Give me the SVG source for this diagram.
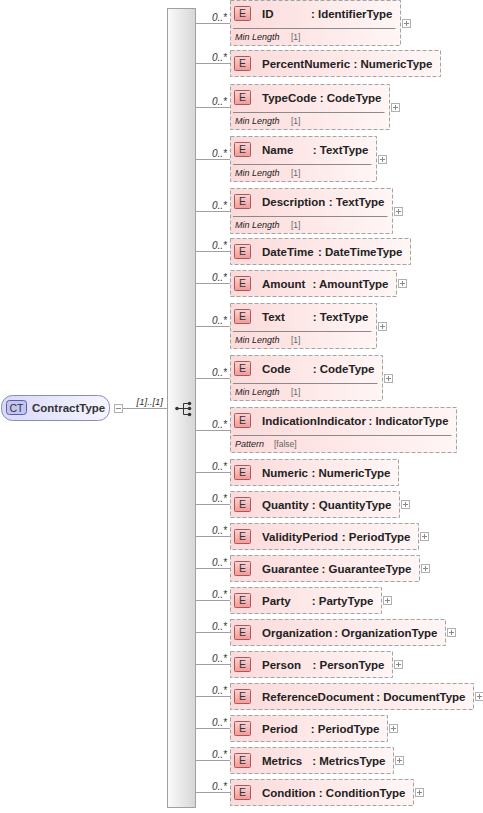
<svg xmlns="http://www.w3.org/2000/svg" xmlns:xlink="http://www.w3.org/1999/xlink" width="483" height="813" viewBox="0 0 483 813">
<style>
text{font-family:"Liberation Sans",Arial,sans-serif}
.box{fill:url(#gE);stroke:#a3a3a3;stroke-dasharray:4 2}
.eb{fill:url(#gB);stroke:#a85a5a}
.et{font-size:10.5px;fill:#333;text-anchor:middle}
.nm{font-size:11.5px;font-weight:bold;fill:#222}
.ty{font-size:11.5px;font-weight:bold;fill:#222;text-anchor:end}
.sep{stroke:#8a8a8a;fill:none}
.fk{font-size:9px;font-style:italic;fill:#222}
.fv{font-size:8.5px;fill:#666}
.pl{fill:#fff;stroke:#b0b0b0}
.pp{stroke:#8a8a8a;fill:none}
.card{font-size:10px;font-style:italic;fill:#333;text-anchor:end}
.cn{stroke:#a0a0a0;fill:none}
</style>
<defs>
<linearGradient id="gE" x1="0" y1="0" x2="1" y2="0">
<stop offset="0" stop-color="#fcdada"/><stop offset="1" stop-color="#fff6f6"/>
</linearGradient>
<linearGradient id="gB" x1="0" y1="0" x2="0" y2="1">
<stop offset="0" stop-color="#fbd4d4"/><stop offset="1" stop-color="#f09a9a"/>
</linearGradient>
<linearGradient id="gS" x1="0" y1="0" x2="1" y2="0">
<stop offset="0" stop-color="#fbfbfb"/><stop offset="1" stop-color="#d6d6d6"/>
</linearGradient>
<linearGradient id="gCT" x1="0" y1="0" x2="1" y2="0">
<stop offset="0" stop-color="#d8d8fa"/><stop offset="1" stop-color="#f6f6ff"/>
</linearGradient>
<g id="plus"><rect class="pl" x="0.5" y="0.5" width="8" height="8"/><path class="pp" d="M2 4.5H7M4.5 2V7"/></g>
<g id="ebadge"><rect class="eb" x="0.5" y="0.5" width="16" height="14" rx="1"/><text class="et" x="8.5" y="11">E</text></g>
</defs>
<rect width="483" height="813" fill="#fff"/>

<g id="connectors">
<path class="cn" d="M122.5 408.5H167.5"/>
<text x="163" y="405" style="font-size:9.5px;font-style:italic;fill:#333;text-anchor:end">[1]..[1]</text>
<path class="cn" d="M196 23.5H230M196 63.5H230M196 107.5H230M196 159.5H230M196 211.5H230M196 251.5H230M196 283.5H230M196 326.5H230M196 378.5H230M196 430.5H230M196 472.5H230M196 504.5H230M196 536.5H230M196 568.5H230M196 600.5H230M196 632.5H230M196 664.5H230M196 696.5H230M196 728.5H230M196 760.5H230M196 792.5H230"/>
<text class="card" x="227" y="20.5">0..*</text>
<text class="card" x="227" y="60.5">0..*</text>
<text class="card" x="227" y="104.5">0..*</text>
<text class="card" x="227" y="156.5">0..*</text>
<text class="card" x="227" y="208.5">0..*</text>
<text class="card" x="227" y="248.5">0..*</text>
<text class="card" x="227" y="280.5">0..*</text>
<text class="card" x="227" y="323.5">0..*</text>
<text class="card" x="227" y="375.5">0..*</text>
<text class="card" x="227" y="427.5">0..*</text>
<text class="card" x="227" y="469.5">0..*</text>
<text class="card" x="227" y="501.5">0..*</text>
<text class="card" x="227" y="533.5">0..*</text>
<text class="card" x="227" y="565.5">0..*</text>
<text class="card" x="227" y="597.5">0..*</text>
<text class="card" x="227" y="629.5">0..*</text>
<text class="card" x="227" y="661.5">0..*</text>
<text class="card" x="227" y="693.5">0..*</text>
<text class="card" x="227" y="725.5">0..*</text>
<text class="card" x="227" y="757.5">0..*</text>
<text class="card" x="227" y="789.5">0..*</text>
</g>

<g id="ContractType">
<rect x="1.5" y="395.5" width="108" height="25" rx="11" fill="url(#gCT)" stroke="#8c8cb4"/>
<rect x="6.5" y="400.5" width="20" height="14" rx="3" fill="#c4c4f2" stroke="#5c5ca4"/>
<text x="16.5" y="411.5" style="font-size:10.5px;fill:#333;text-anchor:middle">CT</text>
<text x="32" y="412" style="font-size:11.5px;font-weight:bold;fill:#333">ContractType</text>
<rect x="114.5" y="404.5" width="8" height="8" fill="#fff" stroke="#b0b0b0"/>
<path d="M116 408.5H121" stroke="#8a8a8a"/>
</g>

<g id="sequence">
<rect x="167.5" y="8.5" width="28" height="799" fill="url(#gS)" stroke="#a0a0a0"/>
<path d="M177 408.5H183.5M183.5 403.5V414.5M183.5 403.5H189M183.5 408.5H189M183.5 414.5H189" stroke="#333" fill="none"/>
<circle cx="177" cy="408.5" r="1.8" fill="#333"/>
<circle cx="189.5" cy="403.5" r="1.8" fill="#333"/>
<circle cx="189.5" cy="408.5" r="1.8" fill="#333"/>
<circle cx="189.5" cy="414.5" r="1.8" fill="#333"/>
</g>

<g id="ID" transform="translate(0,0)">
<rect class="box" x="230.5" y="0.5" width="170" height="45"/>
<use xlink:href="#ebadge" x="234" y="6"/>
<text class="nm" x="262" y="17.5">ID</text><text class="ty" x="392.5" y="17.5">: IdentifierType</text>
<path class="sep" d="M233 28.5H395.5"/>
<text class="fk" x="235" y="40">Min Length</text><text class="fv" x="291" y="40">[1]</text>
<use xlink:href="#plus" x="402" y="19"/>
</g>

<g id="PercentNumeric" transform="translate(0,50)">
<rect class="box" x="230.5" y="0.5" width="210" height="26"/>
<use xlink:href="#ebadge" x="234" y="6"/>
<text class="nm" x="262" y="17.5">PercentNumeric</text><text class="ty" x="432.5" y="17.5">: NumericType</text>
</g>

<g id="TypeCode" transform="translate(0,84)">
<rect class="box" x="230.5" y="0.5" width="159" height="45"/>
<use xlink:href="#ebadge" x="234" y="6"/>
<text class="nm" x="262" y="17.5">TypeCode</text><text class="ty" x="381.5" y="17.5">: CodeType</text>
<path class="sep" d="M233 28.5H384.5"/>
<text class="fk" x="235" y="40">Min Length</text><text class="fv" x="291" y="40">[1]</text>
<use xlink:href="#plus" x="391" y="19"/>
</g>

<g id="Name" transform="translate(0,136)">
<rect class="box" x="230.5" y="0.5" width="146" height="45"/>
<use xlink:href="#ebadge" x="234" y="6"/>
<text class="nm" x="262" y="17.5">Name</text><text class="ty" x="368.5" y="17.5">: TextType</text>
<path class="sep" d="M233 28.5H371.5"/>
<text class="fk" x="235" y="40">Min Length</text><text class="fv" x="291" y="40">[1]</text>
<use xlink:href="#plus" x="378" y="19"/>
</g>

<g id="Description" transform="translate(0,188)">
<rect class="box" x="230.5" y="0.5" width="162" height="45"/>
<use xlink:href="#ebadge" x="234" y="6"/>
<text class="nm" x="262" y="17.5">Description</text><text class="ty" x="384.5" y="17.5">: TextType</text>
<path class="sep" d="M233 28.5H387.5"/>
<text class="fk" x="235" y="40">Min Length</text><text class="fv" x="291" y="40">[1]</text>
<use xlink:href="#plus" x="394" y="19"/>
</g>

<g id="DateTime" transform="translate(0,238)">
<rect class="box" x="230.5" y="0.5" width="180" height="26"/>
<use xlink:href="#ebadge" x="234" y="6"/>
<text class="nm" x="262" y="17.5">DateTime</text><text class="ty" x="402.5" y="17.5">: DateTimeType</text>
</g>

<g id="Amount" transform="translate(0,270)">
<rect class="box" x="230.5" y="0.5" width="166" height="26"/>
<use xlink:href="#ebadge" x="234" y="6"/>
<text class="nm" x="262" y="17.5">Amount</text><text class="ty" x="388.5" y="17.5">: AmountType</text>
<use xlink:href="#plus" x="398" y="9"/>
</g>

<g id="Text" transform="translate(0,303)">
<rect class="box" x="230.5" y="0.5" width="146" height="45"/>
<use xlink:href="#ebadge" x="234" y="6"/>
<text class="nm" x="262" y="17.5">Text</text><text class="ty" x="368.5" y="17.5">: TextType</text>
<path class="sep" d="M233 28.5H371.5"/>
<text class="fk" x="235" y="40">Min Length</text><text class="fv" x="291" y="40">[1]</text>
<use xlink:href="#plus" x="378" y="19"/>
</g>

<g id="Code" transform="translate(0,355)">
<rect class="box" x="230.5" y="0.5" width="152" height="45"/>
<use xlink:href="#ebadge" x="234" y="6"/>
<text class="nm" x="262" y="17.5">Code</text><text class="ty" x="374.5" y="17.5">: CodeType</text>
<path class="sep" d="M233 28.5H377.5"/>
<text class="fk" x="235" y="40">Min Length</text><text class="fv" x="291" y="40">[1]</text>
<use xlink:href="#plus" x="384" y="19"/>
</g>

<g id="IndicationIndicator" transform="translate(0,407)">
<rect class="box" x="230.5" y="0.5" width="226" height="45"/>
<use xlink:href="#ebadge" x="234" y="6"/>
<text class="nm" x="262" y="17.5" textLength="104" lengthAdjust="spacingAndGlyphs">IndicationIndicator</text><text class="ty" x="448.5" y="17.5" textLength="80" lengthAdjust="spacingAndGlyphs">: IndicatorType</text>
<path class="sep" d="M233 28.5H451.5"/>
<text class="fk" x="235" y="40">Pattern</text><text class="fv" x="274" y="40">[false]</text>
</g>

<g id="Numeric" transform="translate(0,459)">
<rect class="box" x="230.5" y="0.5" width="168" height="26"/>
<use xlink:href="#ebadge" x="234" y="6"/>
<text class="nm" x="262" y="17.5">Numeric</text><text class="ty" x="390.5" y="17.5">: NumericType</text>
</g>

<g id="Quantity" transform="translate(0,491)">
<rect class="box" x="230.5" y="0.5" width="169" height="26"/>
<use xlink:href="#ebadge" x="234" y="6"/>
<text class="nm" x="262" y="17.5">Quantity</text><text class="ty" x="391.5" y="17.5">: QuantityType</text>
<use xlink:href="#plus" x="401" y="9"/>
</g>

<g id="ValidityPeriod" transform="translate(0,523)">
<rect class="box" x="230.5" y="0.5" width="188" height="26"/>
<use xlink:href="#ebadge" x="234" y="6"/>
<text class="nm" x="262" y="17.5">ValidityPeriod</text><text class="ty" x="410.5" y="17.5">: PeriodType</text>
<use xlink:href="#plus" x="420" y="9"/>
</g>

<g id="Guarantee" transform="translate(0,555)">
<rect class="box" x="230.5" y="0.5" width="189" height="26"/>
<use xlink:href="#ebadge" x="234" y="6"/>
<text class="nm" x="262" y="17.5">Guarantee</text><text class="ty" x="411.5" y="17.5">: GuaranteeType</text>
<use xlink:href="#plus" x="421" y="9"/>
</g>

<g id="Party" transform="translate(0,587)">
<rect class="box" x="230.5" y="0.5" width="151" height="26"/>
<use xlink:href="#ebadge" x="234" y="6"/>
<text class="nm" x="262" y="17.5">Party</text><text class="ty" x="373.5" y="17.5">: PartyType</text>
<use xlink:href="#plus" x="383" y="9"/>
</g>

<g id="Organization" transform="translate(0,619)">
<rect class="box" x="230.5" y="0.5" width="215" height="26"/>
<use xlink:href="#ebadge" x="234" y="6"/>
<text class="nm" x="262" y="17.5">Organization</text><text class="ty" x="437.5" y="17.5">: OrganizationType</text>
<use xlink:href="#plus" x="447" y="9"/>
</g>

<g id="Person" transform="translate(0,651)">
<rect class="box" x="230.5" y="0.5" width="162" height="26"/>
<use xlink:href="#ebadge" x="234" y="6"/>
<text class="nm" x="262" y="17.5">Person</text><text class="ty" x="384.5" y="17.5">: PersonType</text>
<use xlink:href="#plus" x="394" y="9"/>
</g>

<g id="ReferenceDocument" transform="translate(0,683)">
<rect class="box" x="230.5" y="0.5" width="243" height="26"/>
<use xlink:href="#ebadge" x="234" y="6"/>
<text class="nm" x="262" y="17.5">ReferenceDocument</text><text class="ty" x="465.5" y="17.5">: DocumentType</text>
<use xlink:href="#plus" x="475" y="9"/>
</g>

<g id="Period" transform="translate(0,715)">
<rect class="box" x="230.5" y="0.5" width="157" height="26"/>
<use xlink:href="#ebadge" x="234" y="6"/>
<text class="nm" x="262" y="17.5">Period</text><text class="ty" x="379.5" y="17.5">: PeriodType</text>
<use xlink:href="#plus" x="389" y="9"/>
</g>

<g id="Metrics" transform="translate(0,747)">
<rect class="box" x="230.5" y="0.5" width="163" height="26"/>
<use xlink:href="#ebadge" x="234" y="6"/>
<text class="nm" x="262" y="17.5">Metrics</text><text class="ty" x="385.5" y="17.5">: MetricsType</text>
<use xlink:href="#plus" x="395" y="9"/>
</g>

<g id="Condition" transform="translate(0,779)">
<rect class="box" x="230.5" y="0.5" width="183" height="26"/>
<use xlink:href="#ebadge" x="234" y="6"/>
<text class="nm" x="262" y="17.5">Condition</text><text class="ty" x="405.5" y="17.5">: ConditionType</text>
<use xlink:href="#plus" x="415" y="9"/>
</g>
</svg>
